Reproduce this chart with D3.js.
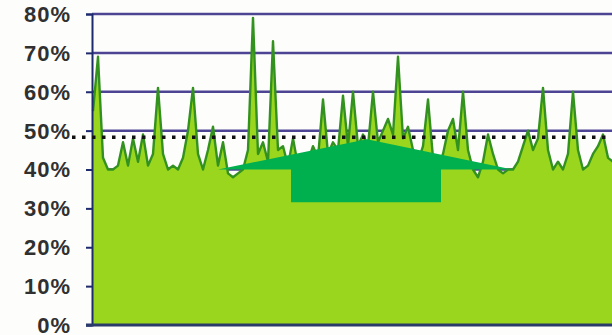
<!DOCTYPE html>
<html>
<head>
<meta charset="utf-8">
<script src="https://cdn.jsdelivr.net/npm/d3@7/dist/d3.min.js"></script>
<style>
  html, body { margin: 0; padding: 0; background: #fdfdfb; }
  svg { display: block; }
  .tick-label { font-family: "Liberation Sans", Arial, sans-serif; font-weight: bold; font-size: 22px; fill: #303030; letter-spacing: 1px; }
</style>
</head>
<body>
<svg id="chart" width="612" height="335"></svg>
<script>
// Daily utilisation share (%), one value per sample
const utilisation = [
  55, 69, 43, 40, 40, 41, 47, 41, 48, 42,
  49, 41, 44, 61, 44, 40, 41, 40, 43, 50,
  61, 44, 40, 45, 51, 41, 47, 39, 38, 39,
  40, 45, 79, 44, 47, 42, 73, 45, 46, 41,
  48, 41, 40, 42, 46, 43, 58, 44, 47, 45,
  59, 46, 60, 46, 49, 46, 60, 47, 50, 53,
  49, 69, 48, 51, 45, 42, 46, 58, 43, 40,
  44, 50, 53, 45, 60, 45, 40, 38, 42, 49,
  44, 40, 39, 40, 40, 42, 46, 50, 45, 48,
  61, 45, 40, 42, 40, 44, 60, 45, 40, 41,
  44, 46, 49, 43, 42
];

// Y axis ticks (%)
const yTicks = [0, 10, 20, 30, 40, 50, 60, 70, 80];

// Average reference level (%)
const averageLevel = 48.3;

// Upward arrow annotation in data units: [sample index, %]
const arrowHead = [[25, 40], [54.8, 47.8], [84, 40]];
const arrowStem = { from: 39.6, to: 69.6, top: 40, bottom: 31.6 };

const svg = d3.select("#chart");
const W = 612, H = 335;
const plotLeft = 92, plotTop = 14, plotBottom = 325;

const x = d3.scaleLinear().domain([0, utilisation.length - 1]).range([plotLeft + 1, 613]);
const y = d3.scaleLinear().domain([0, 80]).range([plotBottom, plotTop]);

// Horizontal gridlines
svg.append("g").selectAll("line")
  .data(yTicks.filter(d => d > 0))
  .join("line")
  .attr("x1", plotLeft).attr("x2", W)
  .attr("y1", d => y(d)).attr("y2", d => y(d))
  .attr("stroke", "#4d4594").attr("stroke-width", 2.5);

// Filled area + outline
const area = d3.area()
  .x((d, i) => x(i)).y0(y(0)).y1(d => y(d));
const line = d3.line()
  .x((d, i) => x(i)).y(d => y(d));

svg.append("path").datum(utilisation)
  .attr("d", area).attr("fill", "#9ad61d");
svg.append("path").datum(utilisation)
  .attr("d", line).attr("fill", "none")
  .attr("stroke", "#33921f").attr("stroke-width", 2.4).attr("stroke-linejoin", "round");

// Y axis
const yAxis = d3.axisLeft(y).tickValues(yTicks).tickSize(6).tickPadding(15)
  .tickFormat(d => d + "%");
const gy = svg.append("g").attr("transform", `translate(${plotLeft},0)`).call(yAxis);
gy.select(".domain").attr("stroke", "#1d2a6e").attr("stroke-width", 2);
gy.selectAll(".tick line").attr("stroke", "#1d2a6e").attr("stroke-width", 2);
gy.selectAll(".tick text").attr("class", "tick-label").attr("dy", "0.34em");

// Baseline
svg.append("line")
  .attr("x1", plotLeft - 6).attr("x2", W)
  .attr("y1", y(0)).attr("y2", y(0))
  .attr("stroke", "#2a3a6a").attr("stroke-width", 3);

// Average dotted line
svg.append("line")
  .attr("x1", 72).attr("x2", W)
  .attr("y1", y(averageLevel)).attr("y2", y(averageLevel))
  .attr("stroke", "#111").attr("stroke-width", 3.5)
  .attr("stroke-dasharray", "3.5 6.5");

// Arrow annotation
const arrowPts = [
  [x(arrowHead[0][0]), y(arrowHead[0][1])],
  [x(arrowHead[1][0]), y(arrowHead[1][1])],
  [x(arrowHead[2][0]), y(arrowHead[2][1])],
  [x(arrowStem.to), y(arrowStem.top)],
  [x(arrowStem.to), y(arrowStem.bottom)],
  [x(arrowStem.from), y(arrowStem.bottom)],
  [x(arrowStem.from), y(arrowStem.top)]
];
svg.append("polygon")
  .attr("points", arrowPts.map(p => p.join(",")).join(" "))
  .attr("fill", "#00b04e");
</script>
</body>
</html>
